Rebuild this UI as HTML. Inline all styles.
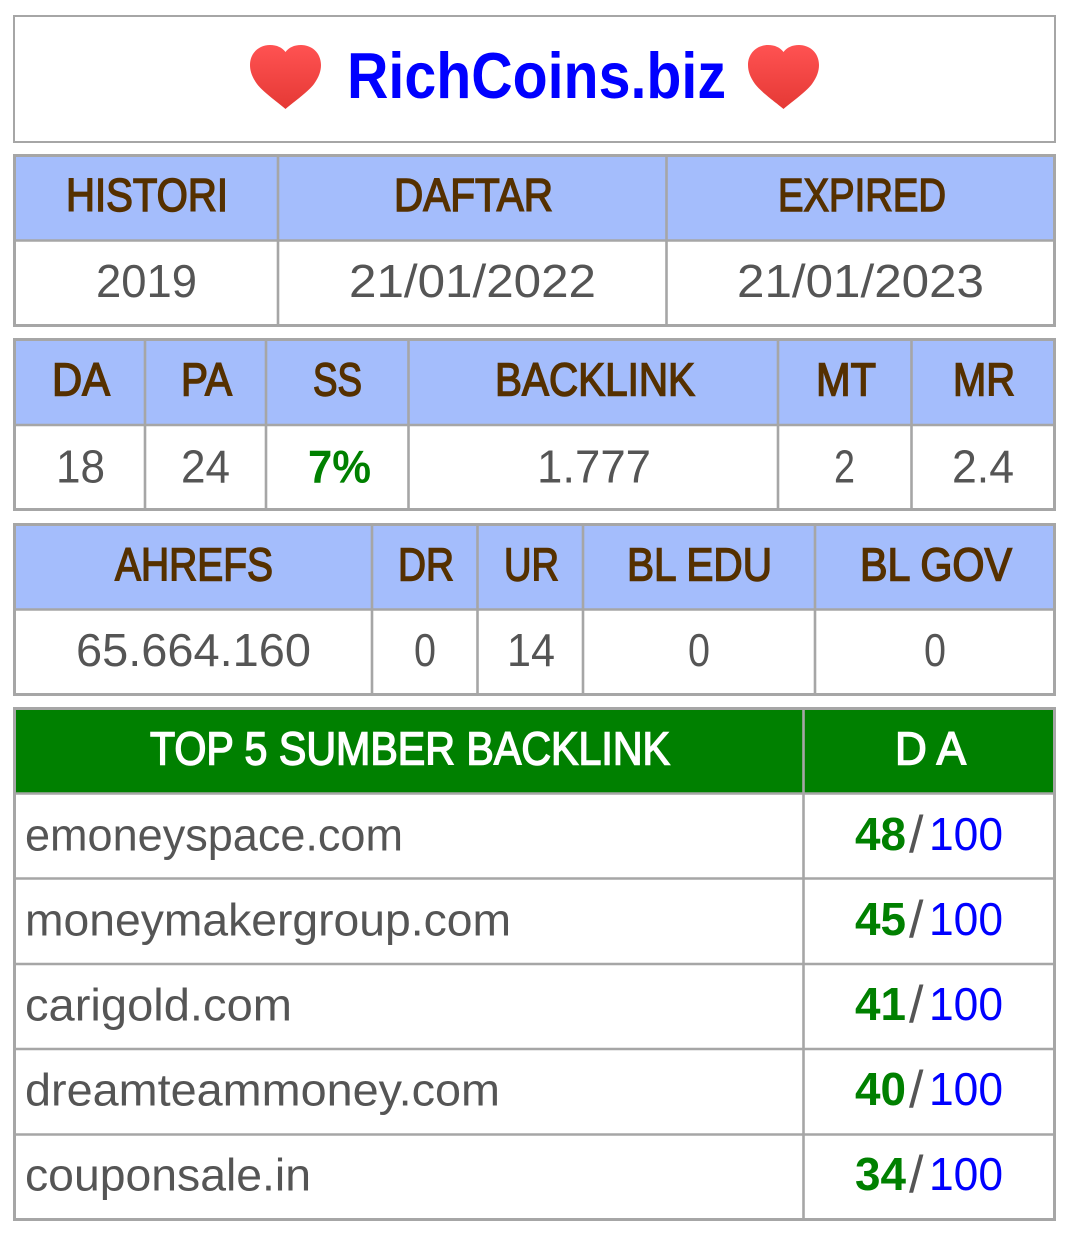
<!DOCTYPE html>
<html lang="id">
<head>
<meta charset="utf-8">
<title>RichCoins.biz</title>
<style>
html,body{margin:0;padding:0;background:#fff;width:1074px;height:1235px;overflow:hidden}
svg{display:block}
text{font-family:"Liberation Sans",Arial,sans-serif}
.fr{fill:#fff;stroke:#a6a6a6;stroke-width:3}
.hd{fill:#a4bdfc}
.gr{fill:#008000}
.ln{stroke:#a6a6a6;stroke-width:2.600}
.h{font-size:46px;fill:#553000;stroke:#553000;stroke-width:1.500px}
.w{font-size:46px;fill:#fff;stroke:#fff;stroke-width:1.500px}
.v{font-size:46px;fill:#555}
.d{font-size:45px;fill:#555}
.g{font-size:46px;fill:#008000;font-weight:bold}
.b{font-size:46px;fill:#0000ff}
.s{font-size:52px;fill:#555}
</style>
</head>
<body>
<svg width="1074" height="1235" viewBox="0 0 1074 1235" xmlns="http://www.w3.org/2000/svg">
<defs>
<linearGradient id="hg" x1="0" y1="0" x2="0" y2="1"><stop offset="0" stop-color="#ff5252"/><stop offset="1" stop-color="#e53935"/></linearGradient>
<path id="heart" d="M35.5 64 C30 59 14 48 7 39 C2 32 0 26 0 20 C0 8 9 0 20 0 C27 0 32 2.500 35.500 7 C39 2.500 44 0 51 0 C62 0 71 8 71 20 C71 26 69 32 64 39 C57 48 41 59 35.500 64 Z"/>
</defs>

<g>
<rect x="14" y="16" width="1041" height="126" fill="#fff" stroke="#a6a6a6" stroke-width="2"/>
<use href="#heart" x="250" y="45" fill="url(#hg)"/>
<a href="#"><text x="347" y="98" font-size="65" font-weight="bold" fill="#0000ff" textLength="379" lengthAdjust="spacingAndGlyphs">RichCoins.biz</text></a>
<use href="#heart" x="748" y="45" fill="url(#hg)"/>
</g>

<g>
<rect class="fr" x="14.500" y="155.500" width="1040" height="170"/>
<rect class="hd" x="16" y="157" width="1037" height="83"/>
<line class="ln" x1="14" x2="1055" y1="240.500" y2="240.500"/>
<line class="ln" x1="278" x2="278" y1="156" y2="325"/>
<line class="ln" x1="666.500" x2="666.500" y1="156" y2="325"/>
<text class="h" x="66" y="211" textLength="162" lengthAdjust="spacingAndGlyphs">HISTORI</text>
<text class="h" x="394" y="211" textLength="159" lengthAdjust="spacingAndGlyphs">DAFTAR</text>
<text class="h" x="778" y="211" textLength="168" lengthAdjust="spacingAndGlyphs">EXPIRED</text>
<text class="v" x="96" y="297" textLength="101" lengthAdjust="spacingAndGlyphs">2019</text>
<text class="v" x="349" y="297" textLength="247" lengthAdjust="spacingAndGlyphs">21/01/2022</text>
<text class="v" x="737" y="297" textLength="247" lengthAdjust="spacingAndGlyphs">21/01/2023</text>
</g>

<g>
<rect class="fr" x="14.500" y="339.500" width="1040" height="170"/>
<rect class="hd" x="16" y="341" width="1037" height="83"/>
<line class="ln" x1="14" x2="1055" y1="425" y2="425"/>
<line class="ln" x1="145" x2="145" y1="340" y2="509"/>
<line class="ln" x1="266" x2="266" y1="340" y2="509"/>
<line class="ln" x1="408.500" x2="408.500" y1="340" y2="509"/>
<line class="ln" x1="778" x2="778" y1="340" y2="509"/>
<line class="ln" x1="911.500" x2="911.500" y1="340" y2="509"/>
<text class="h" x="52" y="395.500" textLength="58" lengthAdjust="spacingAndGlyphs">DA</text>
<text class="h" x="181" y="395.500" textLength="51" lengthAdjust="spacingAndGlyphs">PA</text>
<text class="h" x="313" y="395.500" textLength="49" lengthAdjust="spacingAndGlyphs">SS</text>
<text class="h" x="495" y="395.500" textLength="200" lengthAdjust="spacingAndGlyphs">BACKLINK</text>
<text class="h" x="816" y="395.500" textLength="60" lengthAdjust="spacingAndGlyphs">MT</text>
<text class="h" x="953" y="395.500" textLength="62" lengthAdjust="spacingAndGlyphs">MR</text>
<text class="v" x="56" y="482.500" textLength="49" lengthAdjust="spacingAndGlyphs">18</text>
<text class="v" x="181" y="482.500" textLength="49" lengthAdjust="spacingAndGlyphs">24</text>
<text class="g" x="308" y="482.500" textLength="63" lengthAdjust="spacingAndGlyphs">7%</text>
<text class="v" x="537" y="482.500" textLength="114" lengthAdjust="spacingAndGlyphs">1.777</text>
<text class="v" x="834" y="482.500" textLength="21" lengthAdjust="spacingAndGlyphs">2</text>
<text class="v" x="952" y="482.500" textLength="62" lengthAdjust="spacingAndGlyphs">2.4</text>
</g>

<g>
<rect class="fr" x="14.500" y="524.500" width="1040" height="170"/>
<rect class="hd" x="16" y="526" width="1037" height="83"/>
<line class="ln" x1="14" x2="1055" y1="609.500" y2="609.500"/>
<line class="ln" x1="372" x2="372" y1="525" y2="694"/>
<line class="ln" x1="477.500" x2="477.500" y1="525" y2="694"/>
<line class="ln" x1="583" x2="583" y1="525" y2="694"/>
<line class="ln" x1="815" x2="815" y1="525" y2="694"/>
<text class="h" x="115" y="580.500" textLength="158" lengthAdjust="spacingAndGlyphs">AHREFS</text>
<text class="h" x="398" y="580.500" textLength="56" lengthAdjust="spacingAndGlyphs">DR</text>
<text class="h" x="504" y="580.500" textLength="55" lengthAdjust="spacingAndGlyphs">UR</text>
<text class="h" x="627" y="580.500" textLength="145" lengthAdjust="spacingAndGlyphs">BL EDU</text>
<text class="h" x="860" y="580.500" textLength="152" lengthAdjust="spacingAndGlyphs">BL GOV</text>
<text class="v" x="76" y="666" textLength="235" lengthAdjust="spacingAndGlyphs">65.664.160</text>
<text class="v" x="414" y="666" textLength="22" lengthAdjust="spacingAndGlyphs">0</text>
<text class="v" x="507" y="666" textLength="48" lengthAdjust="spacingAndGlyphs">14</text>
<text class="v" x="688" y="666" textLength="22" lengthAdjust="spacingAndGlyphs">0</text>
<text class="v" x="924" y="666" textLength="22" lengthAdjust="spacingAndGlyphs">0</text>
</g>

<g>
<rect class="fr" x="14.500" y="708.500" width="1040" height="511"/>
<rect class="gr" x="16" y="710" width="1037" height="83"/>
<line class="ln" x1="14" x2="1055" y1="793.500" y2="793.500"/>
<line class="ln" x1="14" x2="1055" y1="878.500" y2="878.500"/>
<line class="ln" x1="14" x2="1055" y1="964" y2="964"/>
<line class="ln" x1="14" x2="1055" y1="1049" y2="1049"/>
<line class="ln" x1="14" x2="1055" y1="1134.500" y2="1134.500"/>
<line class="ln" x1="803.500" x2="803.500" y1="709" y2="1219"/>
<text class="w" x="150" y="764.500" textLength="520" lengthAdjust="spacingAndGlyphs">TOP 5 SUMBER BACKLINK</text>
<text class="w" x="895" y="764.500" textLength="71" lengthAdjust="spacingAndGlyphs">D A</text>

<text class="d" x="25" y="850.500" textLength="378" lengthAdjust="spacingAndGlyphs">emoneyspace.com</text>
<text class="g" x="855" y="850" textLength="51" lengthAdjust="spacingAndGlyphs">48</text>
<text class="s" x="909" y="852">/</text>
<text class="b" x="929" y="850" textLength="74" lengthAdjust="spacingAndGlyphs">100</text>

<text class="d" x="25" y="935.500" textLength="486" lengthAdjust="spacingAndGlyphs">moneymakergroup.com</text>
<text class="g" x="855" y="935" textLength="51" lengthAdjust="spacingAndGlyphs">45</text>
<text class="s" x="909" y="937">/</text>
<text class="b" x="929" y="935" textLength="74" lengthAdjust="spacingAndGlyphs">100</text>

<text class="d" x="25" y="1020.500" textLength="267" lengthAdjust="spacingAndGlyphs">carigold.com</text>
<text class="g" x="855" y="1020" textLength="51" lengthAdjust="spacingAndGlyphs">41</text>
<text class="s" x="909" y="1022">/</text>
<text class="b" x="929" y="1020" textLength="74" lengthAdjust="spacingAndGlyphs">100</text>

<text class="d" x="25" y="1105.500" textLength="475" lengthAdjust="spacingAndGlyphs">dreamteammoney.com</text>
<text class="g" x="855" y="1105" textLength="51" lengthAdjust="spacingAndGlyphs">40</text>
<text class="s" x="909" y="1107">/</text>
<text class="b" x="929" y="1105" textLength="74" lengthAdjust="spacingAndGlyphs">100</text>

<text class="d" x="25" y="1190.500" textLength="286" lengthAdjust="spacingAndGlyphs">couponsale.in</text>
<text class="g" x="855" y="1190" textLength="51" lengthAdjust="spacingAndGlyphs">34</text>
<text class="s" x="909" y="1192">/</text>
<text class="b" x="929" y="1190" textLength="74" lengthAdjust="spacingAndGlyphs">100</text>
</g>
</svg>
</body>
</html>
